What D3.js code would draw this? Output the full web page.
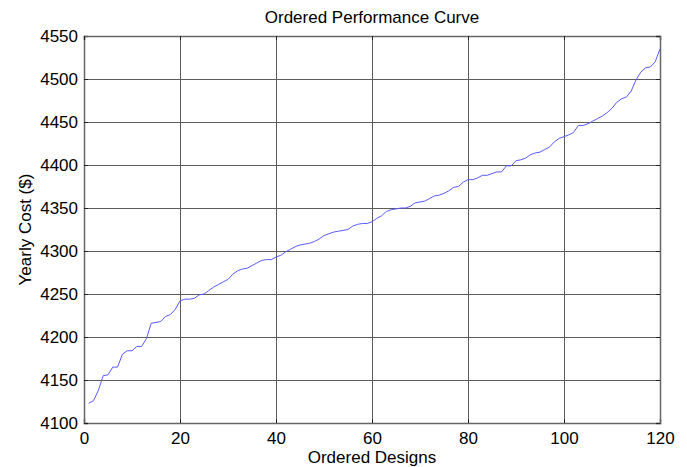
<!DOCTYPE html>
<html>
<head>
<meta charset="utf-8">
<script src="https://cdn.jsdelivr.net/npm/d3@7"></script>
<style>
  body { margin: 0; background: #fff; }
  text { font-family: "Liberation Sans", Arial, sans-serif; fill: #000; }
</style>
</head>
<body>
<div id="chart"></div>
<script>
// yearly cost of each design, sorted (designs 1..120)
var costs = [
  4123, 4126, 4138, 4155, 4156, 4165, 4165, 4180, 4184, 4184,
  4189, 4189, 4198, 4216, 4217, 4218, 4224, 4226, 4232, 4242,
  4244, 4244, 4245, 4249, 4250, 4254, 4258, 4261, 4264, 4267,
  4273, 4277, 4279, 4280, 4283, 4286, 4289, 4290, 4290, 4293,
  4295, 4299, 4302, 4305, 4307, 4308, 4309, 4311, 4314, 4318,
  4320, 4322, 4323, 4324, 4325, 4329, 4331, 4332, 4332, 4334,
  4338, 4341, 4346, 4348, 4349, 4350, 4350, 4352, 4356, 4357,
  4358, 4361, 4364, 4365, 4367, 4370, 4374, 4375, 4380, 4383,
  4383, 4385, 4388, 4388, 4390, 4392, 4392, 4399, 4399, 4405,
  4406, 4408, 4412, 4414, 4415, 4418, 4421, 4427, 4431, 4433,
  4435, 4438, 4446, 4446, 4448, 4451, 4454, 4457, 4461, 4466,
  4473, 4477, 4479, 4486, 4499, 4508, 4513, 4514, 4520, 4535
];
var xTicks = [0, 20, 40, 60, 80, 100, 120];
var yTicks = [4100, 4150, 4200, 4250, 4300, 4350, 4400, 4450, 4500, 4550];

var width = 687, height = 467;
var margin = {left: 84, right: 27, top: 36, bottom: 44};

var svg = d3.select("#chart").append("svg")
  .attr("width", width)
  .attr("height", height);

var x = d3.scaleLinear()
  .domain([0, 120])
  .range([margin.left, width - margin.right]);

var y = d3.scaleLinear()
  .domain([4100, 4550])
  .range([height - margin.bottom, margin.top]);

// grid lines
svg.append("g")
  .selectAll("line")
  .data(xTicks.slice(1, -1))
  .enter()
  .append("line")
  .attr("x1", function(d) { return Math.round(x(d)) + 0.5; })
  .attr("x2", function(d) { return Math.round(x(d)) + 0.5; })
  .attr("y1", y(4550))
  .attr("y2", y(4100))
  .attr("stroke", "#5c5c5c")
  .attr("stroke-width", 1);

svg.append("g")
  .selectAll("line")
  .data(yTicks.slice(1, -1))
  .enter()
  .append("line")
  .attr("y1", function(d) { return Math.round(y(d)) + 0.5; })
  .attr("y2", function(d) { return Math.round(y(d)) + 0.5; })
  .attr("x1", x(0))
  .attr("x2", x(120))
  .attr("stroke", "#5c5c5c")
  .attr("stroke-width", 1);

// axes with inward ticks (MATLAB style)
var fmt = d3.format("d");
var bottomAxis = d3.axisBottom(x).tickValues(xTicks).tickSize(-4).tickPadding(9).tickFormat(fmt);
var leftAxis = d3.axisLeft(y).tickValues(yTicks).tickSize(-4).tickPadding(6).tickFormat(fmt);

var gx = svg.append("g")
  .attr("transform", "translate(0," + y(4100) + ")")
  .call(bottomAxis);
var gy = svg.append("g")
  .attr("transform", "translate(" + x(0) + ",0)")
  .call(leftAxis);
var gt = svg.append("g")
  .attr("transform", "translate(0," + y(4550) + ")")
  .call(d3.axisTop(x).tickValues(xTicks).tickSize(-4).tickFormat(""));
var gr = svg.append("g")
  .attr("transform", "translate(" + x(120) + ",0)")
  .call(d3.axisRight(y).tickValues(yTicks).tickSize(-4).tickFormat(""));

[gx, gy, gt, gr].forEach(function(g) {
  g.select(".domain").attr("stroke", "#666").attr("stroke-width", 1.5);
  g.selectAll(".tick line").attr("stroke", "#222");
  g.selectAll(".tick text")
    .style("font-family", "'Liberation Sans', Arial, sans-serif")
    .style("font-size", "17px")
    .attr("fill", "#000");
});

// the curve
var line = d3.line()
  .x(function(d, i) { return x(i + 1); })
  .y(function(d) { return y(d); });

svg.append("path")
  .datum(costs)
  .attr("d", line)
  .attr("fill", "none")
  .attr("stroke", "#5a5aff")
  .attr("stroke-width", 1);

// labels
svg.append("text")
  .attr("x", (x(0) + x(120)) / 2)
  .attr("y", 23)
  .attr("text-anchor", "middle")
  .style("font-size", "17px")
  .text("Ordered Performance Curve");

svg.append("text")
  .attr("x", (x(0) + x(120)) / 2)
  .attr("y", 463)
  .attr("text-anchor", "middle")
  .style("font-size", "17px")
  .text("Ordered Designs");

svg.append("text")
  .attr("transform", "translate(31," + ((y(4100) + y(4550)) / 2) + ") rotate(-90)")
  .attr("text-anchor", "middle")
  .style("font-size", "17px")
  .text("Yearly Cost ($)");
</script>
</body>
</html>
